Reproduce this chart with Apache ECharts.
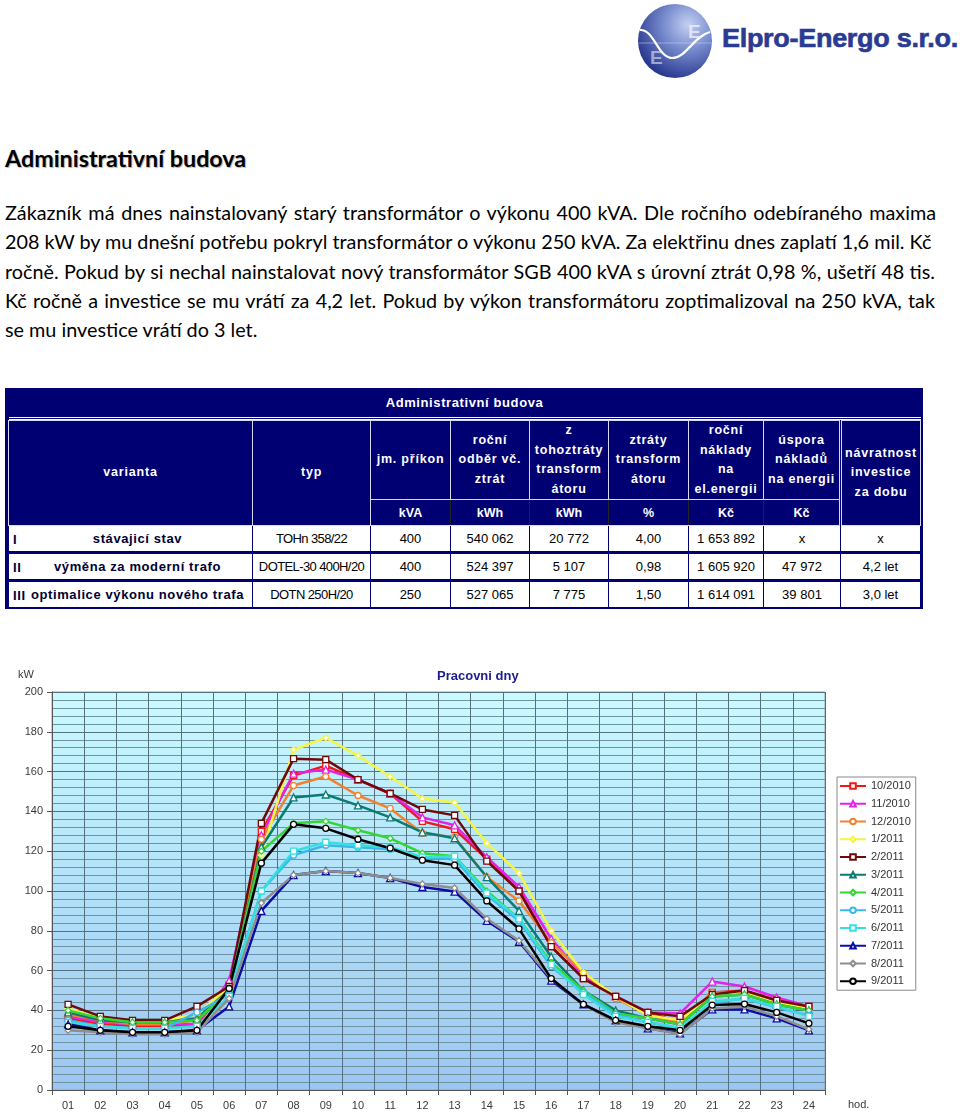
<!DOCTYPE html>
<html><head><meta charset="utf-8">
<script src="https://cdn.jsdelivr.net/npm/echarts@6/dist/echarts.min.js"></script>
<style>
html,body{margin:0;padding:0;background:#fff;}
body{width:960px;height:1116px;position:relative;overflow:hidden;font-family:'Liberation Sans',Arial,sans-serif;}
#logo{position:absolute;left:636px;top:2px;width:78px;height:78px;}
#brand{position:absolute;left:722px;top:23px;font:bold 26px 'Liberation Sans',Arial,sans-serif;color:#2b3a92;white-space:nowrap;transform-origin:0 0;letter-spacing:-0.3px;-webkit-text-stroke:0.6px #2b3a92;}
#heading{position:absolute;left:5px;top:144px;font:bold 23.3px Lato,'Open Sans',sans-serif;color:#000;text-shadow:1px 1px 1px #b0b0b0;white-space:nowrap;}
.pl{position:absolute;left:5px;font:19.8px Lato,'Open Sans',sans-serif;color:#000;white-space:nowrap;height:24px;line-height:24px;}
.just{text-align:justify;text-align-last:justify;}
#tbl{position:absolute;left:5px;top:388px;width:912px;padding:0 3px 1px 3px;background:#000073;}
#tbl table{border-collapse:collapse;width:912px;table-layout:fixed;}
#tbl td{padding:0;text-align:center;vertical-align:middle;overflow:hidden;white-space:nowrap;}
.ttl td{height:28px;color:#fff;font-weight:bold;font-size:13px;letter-spacing:0.6px;}
.sep td{height:4px;}
.sep div{border-top:1px solid #fff;border-bottom:1px solid #fff;height:1px;}
.hd td{color:#fff;font-weight:bold;font-size:12.5px;letter-spacing:0.8px;line-height:19.5px;border:1px solid #d8d8f0;}
.un td{color:#fff;font-weight:bold;font-size:12.5px;height:25px;border:1px solid #d8d8f0;border-left-color:#222;border-right-color:#222;}
.dr td{background:#fff;color:#000;font-size:13px;height:25px;border:1px solid #000073;}
.dr.dbl td{border-top:3px double #000073;}
.dr td.v{font-weight:bold;letter-spacing:0.6px;color:#000033;text-align:left;position:relative;}
.dr td.v .rn{position:absolute;left:4px;top:50%;transform:translateY(-50%);}
.dr td.v .rt{display:block;text-align:center;padding-left:14px;}
.dr td.t{letter-spacing:-0.6px;}
#chart{position:absolute;left:0;top:660px;width:960px;height:456px;}
</style></head><body>

<svg id="logo" viewBox="0 0 78 78">
 <defs>
  <radialGradient id="sg" cx="68%" cy="28%" r="78%">
   <stop offset="0" stop-color="#c4d0f2"/>
   <stop offset="0.45" stop-color="#7589cc"/>
   <stop offset="1" stop-color="#25358c"/>
  </radialGradient>
 </defs>
 <circle cx="39" cy="39" r="37" fill="url(#sg)"/>
 <line x1="3" y1="41" x2="75" y2="41" stroke="#c8d2f0" stroke-width="0.8" opacity="0.7"/>
 <path d="M4,28 C18,27 22,56 36,56 C50,56 58,34 74,30" fill="none" stroke="#ffffff" stroke-width="2.2"/>
 <text x="52" y="36" font-family="Liberation Sans,Arial" font-weight="bold" font-size="19" fill="#e6ecfa" opacity="0.85">E</text>
 <text x="14" y="62" font-family="Liberation Sans,Arial" font-weight="bold" font-size="19" fill="#dfe6f8" opacity="0.6">E</text>
</svg>
<div id="brand">Elpro-Energo s.r.o.</div>

<div id="heading">Administrativní budova</div>
<div id="para"></div>
<div id="tbl"></div>
<div id="chart"></div>

<script>
// ---------- text content ----------
const paraLines = [
 'Zákazník má dnes nainstalovaný starý transformátor o výkonu 400 kVA. Dle ročního odebíraného maxima',
 '208 kW by mu dnešní potřebu pokryl transformátor o výkonu 250 kVA. Za elektřinu dnes zaplatí 1,6 mil. Kč',
 'ročně. Pokud by si nechal nainstalovat nový transformátor SGB  400 kVA s úrovní ztrát 0,98 %, ušetří 48 tis.',
 'Kč ročně a investice se mu vrátí za 4,2 let. Pokud by výkon transformátoru zoptimalizoval na 250 kVA, tak',
 'se mu investice vrátí do 3 let.'
];

// ---------- table data ----------
const tableTitle = 'Administrativní budova';
const rowNums = ['I', 'II', 'III'];
const variants = ['stávajicí stav', 'výměna za moderní trafo', 'optimalice výkonu nového trafa'];
const types = ['TOHn 358/22', 'DOTEL-30 400H/20', 'DOTN 250H/20'];
const prikon = ['400', '400', '250'];
const odber = ['540 062', '524 397', '527 065'];
const ztratyKWh = ['20 772', '5 107', '7 775'];
const ztratyPct = ['4,00', '0,98', '1,50'];
const naklady = ['1 653 892', '1 605 920', '1 614 091'];
const uspora = ['x', '47 972', '39 801'];
const navratnost = ['x', '4,2 let', '3,0 let'];
const headers = ['jm. příkon', 'roční<br>odběr vč.<br>ztrát', 'z<br>tohoztráty<br>transform<br>átoru', 'ztráty<br>transform<br>átoru', 'roční<br>náklady<br>na<br>el.energii', 'úspora<br>nákladů<br>na energii'];
const units = ['kVA', 'kWh', 'kWh', '%', 'Kč', 'Kč'];

// ---------- chart data ----------
const hours = ['01','02','03','04','05','06','07','08','09','10','11','12','13','14','15','16','17','18','19','20','21','22','23','24'];
const months = ['10/2010','11/2010','12/2010','1/2011','2/2011','3/2011','4/2011','5/2011','6/2011','7/2011','8/2011','9/2011'];
const s_10_2010 = [36, 33, 32, 32, 33, 53, 130, 158, 163, 156, 149, 135, 131, 116, 100, 72, 56, 47, 39, 34, 49, 50, 45, 42];
const s_11_2010 = [37, 34, 33, 33, 33, 55, 128, 159, 161, 156, 149, 137, 133, 117, 102, 76, 57, 47, 39, 38.5, 54.5, 52, 46.5, 42];
const s_12_2010 = [38, 35, 33, 33, 35, 52, 126, 153, 157.5, 148, 141.5, 129, 127, 107, 95, 74, 59, 46, 38, 33.5, 49, 49, 44.5, 42];
const s_1_2011  = [41, 36, 35, 35, 38, 52, 118, 171, 177, 168, 157.5, 146.5, 144.5, 124, 109, 80, 59, 47, 37.5, 35, 48, 49, 44, 41];
const s_2_2011  = [43, 37, 35, 35, 42, 52, 134, 166.5, 166, 156, 149, 141, 138, 115, 100, 72, 56, 47, 39, 37, 48, 50, 45, 42];
const s_3_2011  = [39, 35, 34, 34, 36, 50, 122, 147, 148.5, 143, 137, 129.5, 126.5, 107, 90, 67, 50, 40, 36, 33, 47, 48, 43, 40];
const s_4_2011  = [40, 36, 34, 34, 35, 50, 120, 134, 135, 130.5, 126.5, 119, 117.5, 100, 86, 64, 50, 38.5, 36, 33, 47, 48, 43, 40];
const s_5_2011  = [35, 32, 31, 31, 39, 48, 100, 118, 123, 122, 121, 117, 116, 98, 85, 62, 49, 38, 34, 31, 44, 46, 41.5, 37.5];
const s_6_2011  = [34, 32, 31, 31, 32, 47, 100, 120, 124.5, 123, 122, 117, 117.5, 99, 86, 63, 48, 37, 34, 31, 44.5, 46, 42, 37];
const s_7_2011  = [33, 30, 29, 29, 30, 42, 90, 108, 110, 109, 106.5, 102, 99.7, 85, 74.5, 55, 43, 35, 31, 28.5, 40.5, 40.5, 36, 30];
const s_8_2011  = [30, 29, 28, 28, 29, 46, 94, 108, 110, 109, 106.5, 103.5, 101.5, 86, 75, 56, 43, 34, 31, 28, 41, 42, 37, 30.5];
const s_9_2011  = [32, 30, 29, 29, 30, 51, 114, 133.5, 131.5, 126, 121.5, 115.5, 113, 95, 81, 56, 43, 35, 32, 30, 42.7, 43.2, 39, 33.5];
const seriesValues = [s_10_2010, s_11_2010, s_12_2010, s_1_2011, s_2_2011, s_3_2011, s_4_2011, s_5_2011, s_6_2011, s_7_2011, s_8_2011, s_9_2011];
const yTicks = {min: 0, max: 200, step: 20};

// ---------- styles ----------
const colors = ['#ee1a1a','#e622e6','#f08232','#f5f542','#6e0a0a','#0b7a70','#33d633','#38b8ea','#36dede','#0c0ca6','#8e8e8e','#000000'];
const symbols = ['rect','triangle','circle','diamond','rect','triangle','diamond','circle','rect','triangle','diamond','circle'];

// paragraph
const paraWidths = [931, 920, 930, 930, null];
const para = document.getElementById('para');
paraLines.forEach((t, i) => {
  const d = document.createElement('div');
  d.className = 'pl' + (paraWidths[i] ? ' just' : '');
  d.style.top = (200 + i * 29.3) + 'px';
  if (paraWidths[i]) d.style.width = paraWidths[i] + 'px';
  d.textContent = t;
  para.appendChild(d);
});

// brand width fit
const brand = document.getElementById('brand');
brand.style.transform = 'scaleX(' + (236 / brand.offsetWidth) + ')';

// table
const colW = [244, 118, 80, 79, 79, 80, 75, 77, 80];
let h = '<table><colgroup>' + colW.map(w => '<col style="width:' + w + 'px">').join('') + '</colgroup>';
h += '<tr class="ttl"><td colspan="9">' + tableTitle + '</td></tr>';
h += '<tr class="sep"><td colspan="9"><div></div></td></tr>';
h += '<tr class="hd" style="height:77px"><td rowspan="2">varianta</td><td rowspan="2">typ</td>' +
     headers.map(x => '<td>' + x + '</td>').join('') +
     '<td rowspan="2" style="border-left:3px double #d8d8f0">návratnost<br>investice<br>za dobu</td></tr>';
h += '<tr class="un">' + units.map(x => '<td>' + x + '</td>').join('') + '</tr>';
for (let i = 0; i < 3; i++) {
  h += '<tr class="dr' + (i > 0 ? ' dbl' : '') + '">' +
    '<td class="v"><span class="rn">' + rowNums[i] + '</span><span class="rt">' + variants[i] + '</span></td>' +
    '<td class="t">' + types[i] + '</td><td>' + prikon[i] + '</td><td>' + odber[i] + '</td><td>' + ztratyKWh[i] +
    '</td><td>' + ztratyPct[i] + '</td><td>' + naklady[i] + '</td><td>' + uspora[i] + '</td><td>' + navratnost[i] + '</td></tr>';
}
h += '</table>';
document.getElementById('tbl').innerHTML = h;

// chart
const chart = echarts.init(document.getElementById('chart'), null, {renderer: 'canvas'});
const labelFont = {fontFamily: 'Liberation Sans, Arial', fontSize: 11, color: '#3a3a3a'};
const option = {
  animation: false,
  title: {text: 'Pracovni dny', left: 437, top: 10, padding: 0,
    textStyle: {fontFamily: 'Liberation Sans, Arial', fontSize: 13, fontWeight: 'bold', color: '#1c1c8c'}},
  grid: {left: 52, right: 135, top: 32, bottom: 26, show: true,
    backgroundColor: {type: 'linear', x: 0, y: 0, x2: 0, y2: 1,
      colorStops: [{offset: 0, color: '#c9fbff'}, {offset: 1, color: '#9cc6f2'}]},
    borderColor: '#8aa2ae', borderWidth: 1},
  xAxis: {type: 'category', data: hours, boundaryGap: true,
    axisLine: {lineStyle: {color: '#555'}},
    axisTick: {show: true, interval: 0, length: 5, lineStyle: {color: '#555'}},
    axisLabel: Object.assign({interval: 0, margin: 10}, labelFont),
    splitLine: {show: true, interval: 0, lineStyle: {color: '#55707f', width: 1}}},
  yAxis: {type: 'value', min: yTicks.min, max: yTicks.max, interval: yTicks.step,
    axisLine: {show: true, lineStyle: {color: '#555'}},
    axisTick: {show: true, length: 5, lineStyle: {color: '#555'}},
    axisLabel: Object.assign({margin: 9}, labelFont),
    splitLine: {show: true, lineStyle: {color: '#55707f', width: 1}},
    minorTick: {show: false, splitNumber: 5},
    minorSplitLine: {show: true, lineStyle: {color: '#7291a1', width: 1}}},
  legend: {orient: 'vertical', left: 837, top: 117, padding: [3, 5, 3, 2],
    borderColor: '#8a8a8a', borderWidth: 1, backgroundColor: '#fff',
    itemWidth: 26, itemHeight: 7, itemGap: 5.75,
    textStyle: {fontFamily: 'Liberation Sans, Arial', fontSize: 11, color: '#333', lineHeight: 12, height: 12},
    data: months},
  graphic: [
    {type: 'text', left: 18, top: 9, style: {text: 'kW', font: '11px Liberation Sans, Arial', fill: '#3a3a3a'}},
    {type: 'text', left: 848, top: 439, style: {text: 'hod.', font: '11px Liberation Sans, Arial', fill: '#3a3a3a'}}
  ],
  series: months.map((m, i) => ({
    name: m, type: 'line', data: seriesValues[i],
    symbol: symbols[i], symbolSize: symbols[i] === 'triangle' ? 7 : 6,
    lineStyle: {color: colors[i], width: 2.5},
    itemStyle: {color: '#ffffff', borderColor: colors[i], borderWidth: 1.3},
    emphasis: {disabled: true}
  }))
};
chart.setOption(option);
</script>
</body></html>
